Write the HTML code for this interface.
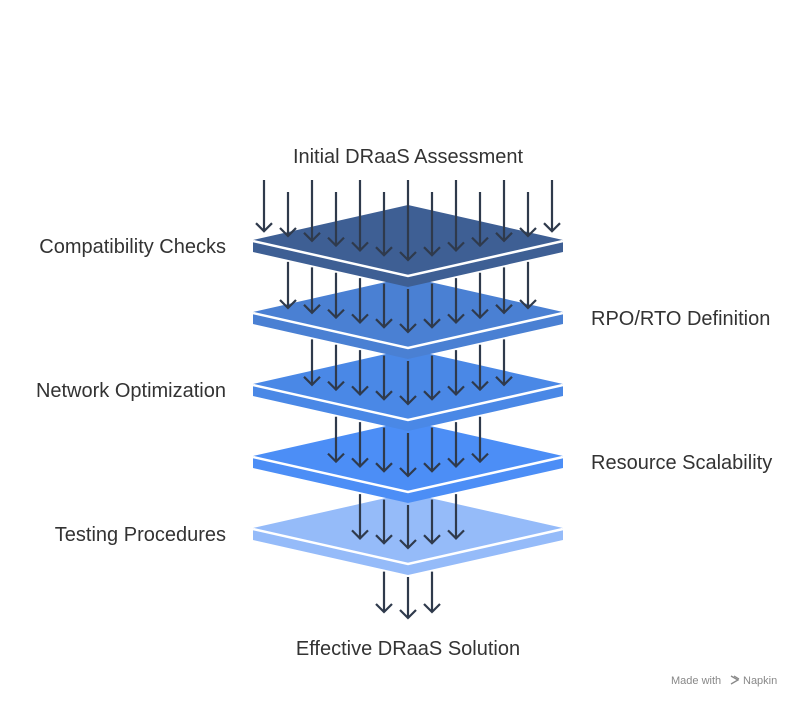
<!DOCTYPE html>
<html><head><meta charset="utf-8"><style>
body{margin:0;background:#fff;}
svg text{font-family:"Liberation Sans",sans-serif;}
</style></head><body>
<svg width="804" height="708" viewBox="0 0 804 708" xmlns="http://www.w3.org/2000/svg">
<rect width="804" height="708" fill="#fff"/>
<g id="g"></g>
<g font-size="20" fill="#333">
<text x="408" y="163" text-anchor="middle">Initial DRaaS Assessment</text>
<text x="226" y="253" text-anchor="end">Compatibility Checks</text>
<text x="591" y="325">RPO/RTO Definition</text>
<text x="226" y="397" text-anchor="end">Network Optimization</text>
<text x="591" y="469">Resource Scalability</text>
<text x="226" y="541" text-anchor="end">Testing Procedures</text>
<text x="408" y="655" text-anchor="middle">Effective DRaaS Solution</text>
</g>
<text x="671" y="684" font-size="11" fill="#888">Made with</text>
<text x="743" y="684" font-size="11" fill="#888">Napkin</text>
<path d="M731 676 l7 4 -7 4 M734 676 l5 3" stroke="#888" stroke-width="1.3" fill="none"/>
</svg>
<script>
var g=document.getElementById('g');var s='';
var cs=[240,312,384,456,528];
var cols=['#3e5f94','#4a80d3','#4a88e6','#4c8ef6','#95bbf9'];
function arrow(x,y1,y2){return '<path d="M'+x+' '+y1+'V'+y2+'M'+(x-8)+' '+(y2-8)+'L'+x+' '+y2+'L'+(x+8)+' '+(y2-8)+'" stroke="#2f3a4c" stroke-width="2.2" fill="none"/>';}
function bottom(c,dx){return c+12+35*(155-Math.abs(dx))/155;}
for(var k=-1;k<=1;k++){var x=408+24*k;s+=arrow(x,bottom(528,24*k)+2,k==0?618:612);}
for(var i=4;i>=0;i--){
 var c=cs[i],col=cols[i];
 s+='<polygon points="253,'+c+' 253,'+(c+12)+' 408,'+(c+47)+' 563,'+(c+12)+' 563,'+c+'" fill="'+col+'"/>';
 s+='<polygon points="408,'+(c-35)+' 563,'+c+' 408,'+(c+35)+' 253,'+c+'" fill="'+col+'"/>';
 s+='<polyline points="253,'+(c+1)+' 408,'+(c+36)+' 563,'+(c+1)+'" stroke="#fff" stroke-width="2.5" fill="none"/>';
 var n=6-i;
 for(var k=-n;k<=n;k++){
  var x=408+24*k,dx=24*k;
  var tip=c+20-0.2*Math.abs(dx);
  var st;
  if(i==0) st=(k%2==0)?180:192;
  else st=bottom(cs[i-1],dx)+2;
  s+=arrow(x,st,tip);
 }
}
g.innerHTML=s;
</script>
</body></html>
